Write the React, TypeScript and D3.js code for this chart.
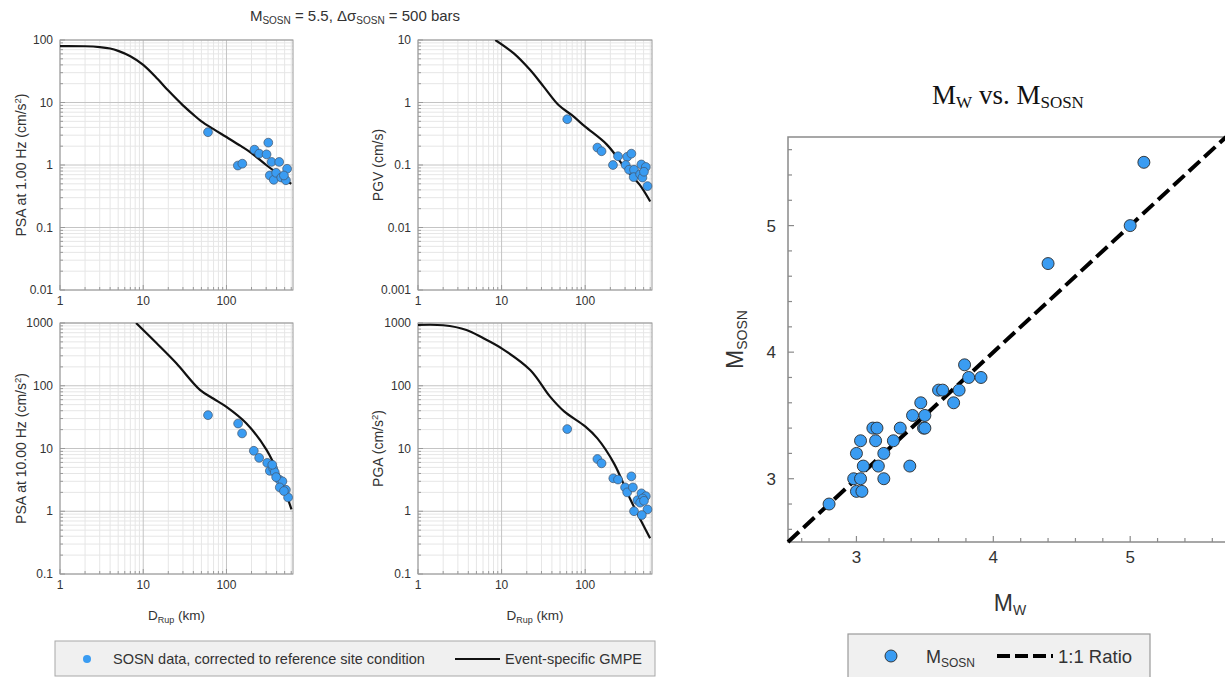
import React from 'react';
import * as d3 from 'd3';

// ---------- Left figure data ----------
const distDomain: [number, number] = [1, 630];
const distTicks = [1, 10, 100];

// PSA at 1.00 Hz
const psa1CurveD = [1, 2, 3, 4, 5, 7, 10, 15, 20, 30, 40, 50, 70, 100, 150, 200, 300, 400, 500, 600];
const psa1CurveV = [80, 79.5, 77, 73, 67, 55, 40, 23.5, 15.5, 9.0, 6.4, 5.0, 3.75, 2.8, 2.0, 1.55, 1.0, 0.75, 0.6, 0.5];
const psa1PtsD = [60, 137, 155, 217, 247, 318, 303, 348, 430, 332, 370, 395, 455, 518, 535, 490];
const psa1PtsV = [3.35, 0.98, 1.05, 1.76, 1.52, 2.28, 1.48, 1.12, 1.12, 0.68, 0.58, 0.75, 0.63, 0.57, 0.87, 0.68];
const psa1Ticks = [0.01, 0.1, 1, 10, 100];

// PGV
const pgvCurveD = [8.4, 14, 22, 32, 48, 70, 100, 183, 318, 450, 600];
const pgvCurveV = [10, 6.1, 3.3, 1.78, 0.91, 0.62, 0.41, 0.21, 0.081, 0.048, 0.026];
const pgvPtsD = [61, 140, 157, 215, 247, 318, 357, 305, 335, 384, 380, 470, 531, 454, 484, 505, 556];
const pgvPtsV = [0.54, 0.19, 0.166, 0.1, 0.138, 0.135, 0.152, 0.1, 0.084, 0.084, 0.064, 0.102, 0.093, 0.071, 0.063, 0.078, 0.046];
const pgvTicks = [0.001, 0.01, 0.1, 1, 10];

// PSA at 10.00 Hz
const psa10CurveD = [8.2, 14.5, 25, 48, 70, 100, 174, 303, 437, 604];
const psa10CurveV = [1000, 475, 228, 86, 62, 46, 25, 9.5, 3.5, 1.07];
const psa10PtsD = [60, 138, 154, 213, 247, 309, 332, 364, 380, 355, 430, 470, 437, 518, 550, 490, 395];
const psa10PtsV = [34, 25, 17.4, 9.2, 7.1, 5.9, 4.4, 4.8, 4.2, 5.5, 3.2, 3.0, 2.4, 2.2, 1.66, 2.1, 3.5];
const psa10Ticks = [0.1, 1, 10, 100, 1000];

// PGA
const pgaCurveD = [1, 2, 3.8, 6, 10, 22, 38, 56, 100, 140, 221, 351, 598];
const pgaCurveV = [930, 920, 775, 576, 395, 178, 67, 39, 22.5, 14.5, 5.8, 1.5, 0.37];
const pgaPtsD = [61, 140, 157, 217, 247, 357, 300, 318, 372, 422, 384, 471, 531, 488, 454, 505, 556, 476];
const pgaPtsV = [20.4, 6.8, 5.8, 3.35, 3.2, 3.6, 2.4, 2.0, 2.4, 1.5, 1.0, 1.93, 1.74, 1.6, 1.37, 1.47, 1.07, 0.87];
const pgaTicks = [0.1, 1, 10, 100, 1000];

// ---------- Right figure data ----------
const magDomain: [number, number] = [2.5, 5.7];
const magTicks = [3, 4, 5];
const mwVals = [2.8, 2.98, 3.03, 3.0, 3.04, 3.0, 3.03, 3.05, 3.12, 3.15, 3.14, 3.16, 3.2, 3.2, 3.27, 3.32, 3.39, 3.41, 3.47, 3.5, 3.49, 3.5, 3.6, 3.63, 3.71, 3.75, 3.79, 3.82, 3.91, 4.4, 5.0, 5.1];
const msosnVals = [2.8, 3.0, 3.0, 2.9, 2.9, 3.2, 3.3, 3.1, 3.4, 3.4, 3.3, 3.1, 3.2, 3.0, 3.3, 3.4, 3.1, 3.5, 3.6, 3.5, 3.4, 3.4, 3.7, 3.7, 3.6, 3.7, 3.9, 3.8, 3.8, 4.7, 5.0, 5.5];

const BLUE = '#3a9cf2';
const SANS = '"Liberation Sans", Arial, Helvetica, sans-serif';
const SERIF = '"Liberation Serif", "Times New Roman", serif';
const TXT = '#333';

function logGridValues([a, b]: [number, number]) {
  const out: { v: number; major: boolean }[] = [];
  for (let e = Math.floor(Math.log10(a)); e <= Math.ceil(Math.log10(b)); e++) {
    for (let m = 1; m < 10; m++) {
      const v = m * Math.pow(10, e);
      if (v >= a * 0.999 && v <= b * 1.001) out.push({ v, major: m === 1 });
    }
  }
  return out;
}

type PanelProps = {
  left: number; right: number; top: number; bottom: number;
  yDomain: [number, number]; yTicks: number[];
  curveD: number[]; curveV: number[]; ptsD: number[]; ptsV: number[];
  yLabel: React.ReactNode; yLabelX: number; xLabel: boolean;
};

function LogPanel(p: PanelProps) {
  const x = d3.scaleLog().domain(distDomain).range([p.left, p.right]);
  const y = d3.scaleLog().domain(p.yDomain).range([p.bottom, p.top]);
  const xg = logGridValues(distDomain);
  const yg = logGridValues(p.yDomain);
  const idx = p.curveD.map((_, i) => i);
  const line = d3.line<number>().x(i => x(p.curveD[i])).y(i => y(p.curveV[i])).curve(d3.curveCatmullRom.alpha(0.5));
  const fmt = d3.format('~g');
  const clipId = `clip-${p.left}-${p.top}`;
  return (
    <g>
      <defs>
        <clipPath id={clipId}>
          <rect x={p.left} y={p.top} width={p.right - p.left} height={p.bottom - p.top} />
        </clipPath>
      </defs>
      {xg.filter(g => !g.major).map((g, i) => (
        <line key={'xm' + i} x1={x(g.v)} x2={x(g.v)} y1={p.top} y2={p.bottom} stroke="#e6e6e6" strokeWidth={1} />
      ))}
      {yg.filter(g => !g.major).map((g, i) => (
        <line key={'ym' + i} y1={y(g.v)} y2={y(g.v)} x1={p.left} x2={p.right} stroke="#e6e6e6" strokeWidth={1} />
      ))}
      {xg.filter(g => g.major).map((g, i) => (
        <line key={'xM' + i} x1={x(g.v)} x2={x(g.v)} y1={p.top} y2={p.bottom} stroke="#c4c4c4" strokeWidth={1} />
      ))}
      {yg.filter(g => g.major).map((g, i) => (
        <line key={'yM' + i} y1={y(g.v)} y2={y(g.v)} x1={p.left} x2={p.right} stroke="#c4c4c4" strokeWidth={1} />
      ))}
      {yg.map((g, i) => (
        <line key={'yt' + i} y1={y(g.v)} y2={y(g.v)} x1={p.left} x2={p.left + (g.major ? 5 : 3)} stroke="#999" strokeWidth={1} />
      ))}
      {xg.map((g, i) => (
        <line key={'xt' + i} x1={x(g.v)} x2={x(g.v)} y1={p.bottom} y2={p.bottom - (g.major ? 5 : 3)} stroke="#999" strokeWidth={1} />
      ))}
      <rect x={p.left} y={p.top} width={p.right - p.left} height={p.bottom - p.top} fill="none" stroke="#9a9a9a" strokeWidth={1} />
      <g clipPath={`url(#${clipId})`}>
        <path d={line(idx) || ''} fill="none" stroke="#111" strokeWidth={2.2} />
      </g>
      {p.ptsD.map((d, i) => (
        <circle key={'p' + i} cx={x(d)} cy={y(p.ptsV[i])} r={4.4} fill={BLUE} stroke="#44556a" strokeWidth={0.7} />
      ))}
      {p.yTicks.map((t, i) => (
        <text key={'yl' + i} x={p.left - 7} y={y(t)} dy="0.35em" textAnchor="end" fontSize={12} fill={TXT} fontFamily={SANS}>{fmt(t)}</text>
      ))}
      {distTicks.map((t, i) => (
        <text key={'xl' + i} x={x(t)} y={p.bottom + 15} textAnchor="middle" fontSize={12} fill={TXT} fontFamily={SANS}>{fmt(t)}</text>
      ))}
      <text transform={`translate(${p.yLabelX},${(p.top + p.bottom) / 2}) rotate(-90)`} textAnchor="middle" fontSize={14} fill={TXT} fontFamily={SANS}>
        {p.yLabel}
      </text>
      {p.xLabel && (
        <text x={(p.left + p.right) / 2} y={p.bottom + 46} textAnchor="middle" fontSize={13.5} fill={TXT} fontFamily={SANS}>
          D<tspan fontSize={9} dy={3}>Rup</tspan><tspan dy={-3}> (km)</tspan>
        </text>
      )}
    </g>
  );
}

const accLabel = (prefix: string) => (
  <>
    {prefix} (cm/s<tspan fontSize={9.5} dy={-5}>2</tspan><tspan dy={5}>)</tspan>
  </>
);

function ScatterPanel() {
  const left = 788, right = 1226, top = 137, bottom = 542;
  const x = d3.scaleLinear().domain(magDomain).range([left, right]);
  const y = d3.scaleLinear().domain(magDomain).range([bottom, top]);
  const minor = d3.range(26, 57, 2).map(v => v / 10);
  return (
    <g>
      <text x={1008} y={104} textAnchor="middle" fontSize={27} fill="#111" fontFamily={SERIF}>
        M<tspan fontSize={17} dy={4}>W</tspan><tspan dy={-4}> vs. M</tspan><tspan fontSize={17} dy={4}>SOSN</tspan>
      </text>
      <rect x={left} y={top} width={right - left} height={bottom - top} fill="none" stroke="#8a8a8a" strokeWidth={1.5} />
      {minor.map((v, i) => {
        const major = magTicks.some(t => Math.abs(t - v) < 1e-6);
        return (
          <g key={'t' + i}>
            <line x1={x(v)} x2={x(v)} y1={bottom} y2={bottom - (major ? 6 : 4)} stroke="#8a8a8a" strokeWidth={1.2} />
            <line y1={y(v)} y2={y(v)} x1={left} x2={left + (major ? 6 : 4)} stroke="#8a8a8a" strokeWidth={1.2} />
          </g>
        );
      })}
      <line x1={x(magDomain[0])} y1={y(magDomain[0])} x2={x(magDomain[1])} y2={y(magDomain[1])} stroke="#000" strokeWidth={4} strokeDasharray="15 6" />
      {mwVals.map((m, i) => (
        <circle key={'c' + i} cx={x(m)} cy={y(msosnVals[i])} r={6} fill={BLUE} stroke="#2a2a2a" strokeWidth={0.9} />
      ))}
      {magTicks.map((t, i) => (
        <text key={'xl' + i} x={x(t)} y={bottom + 21} textAnchor="middle" fontSize={17} fill={TXT} fontFamily={SANS}>{t}</text>
      ))}
      {magTicks.map((t, i) => (
        <text key={'yl' + i} x={left - 12} y={y(t)} dy="0.35em" textAnchor="end" fontSize={17} fill={TXT} fontFamily={SANS}>{t}</text>
      ))}
      <text x={1010} y={611} textAnchor="middle" fontSize={23} fill={TXT} fontFamily={SANS}>
        M<tspan fontSize={14} dy={4}>W</tspan>
      </text>
      <text transform={`translate(743,${(top + bottom) / 2}) rotate(-90)`} textAnchor="middle" fontSize={23} fill={TXT} fontFamily={SANS}>
        M<tspan fontSize={14} dy={4}>SOSN</tspan>
      </text>
      {/* legend */}
      <rect x={848} y={634} width={302} height={60} fill="#f0f0f0" stroke="#9a9a9a" strokeWidth={1.2} />
      <circle cx={891} cy={656} r={6} fill={BLUE} stroke="#2a2a2a" strokeWidth={0.9} />
      <text x={926} y={663} fontSize={18} fill={TXT} fontFamily={SANS}>
        M<tspan fontSize={12} dy={4}>SOSN</tspan>
      </text>
      <line x1={997} x2={1053} y1={656} y2={656} stroke="#000" strokeWidth={4} strokeDasharray="13 5" />
      <text x={1058} y={663} fontSize={18.5} fill={TXT} fontFamily={SANS}>1:1 Ratio</text>
    </g>
  );
}

export default function App() {
  return (
    <svg width={1225} height={677} style={{ position: 'absolute', left: 0, top: 0, background: '#fff' }}>
      <rect width={1225} height={677} fill="#fff" />
      <text x={355} y={21} textAnchor="middle" fontSize={15} fill={TXT} fontFamily={SANS}>
        M<tspan fontSize={10} dy={3}>SOSN</tspan><tspan dy={-3}> = 5.5, Δσ</tspan><tspan fontSize={10} dy={3}>SOSN</tspan><tspan dy={-3}> = 500 bars</tspan>
      </text>
      <LogPanel left={60} right={293} top={40} bottom={290} yDomain={[0.01, 100]} yTicks={psa1Ticks}
        curveD={psa1CurveD} curveV={psa1CurveV} ptsD={psa1PtsD} ptsV={psa1PtsV}
        yLabel={accLabel('PSA at 1.00 Hz')} yLabelX={26} xLabel={false} />
      <LogPanel left={418} right={652} top={40} bottom={290} yDomain={[0.001, 10]} yTicks={pgvTicks}
        curveD={pgvCurveD} curveV={pgvCurveV} ptsD={pgvPtsD} ptsV={pgvPtsV}
        yLabel={<>PGV (cm/s)</>} yLabelX={383} xLabel={false} />
      <LogPanel left={60} right={293} top={323} bottom={574} yDomain={[0.1, 1000]} yTicks={psa10Ticks}
        curveD={psa10CurveD} curveV={psa10CurveV} ptsD={psa10PtsD} ptsV={psa10PtsV}
        yLabel={accLabel('PSA at 10.00 Hz')} yLabelX={26} xLabel={true} />
      <LogPanel left={418} right={652} top={323} bottom={574} yDomain={[0.1, 1000]} yTicks={pgaTicks}
        curveD={pgaCurveD} curveV={pgaCurveV} ptsD={pgaPtsD} ptsV={pgaPtsV}
        yLabel={accLabel('PGA')} yLabelX={383} xLabel={true} />
      {/* left legend */}
      <rect x={55} y={641} width={600} height={35} fill="#f0f0f0" stroke="#a8a8a8" strokeWidth={1} />
      <circle cx={87} cy={659} r={4} fill={BLUE} />
      <text x={113} y={664} fontSize={14.5} fill={TXT} fontFamily={SANS}>SOSN data, corrected to reference site condition</text>
      <line x1={455} x2={500} y1={659} y2={659} stroke="#111" strokeWidth={2} />
      <text x={505} y={664} fontSize={14.5} fill={TXT} fontFamily={SANS}>Event-specific GMPE</text>
      <ScatterPanel />
    </svg>
  );
}
